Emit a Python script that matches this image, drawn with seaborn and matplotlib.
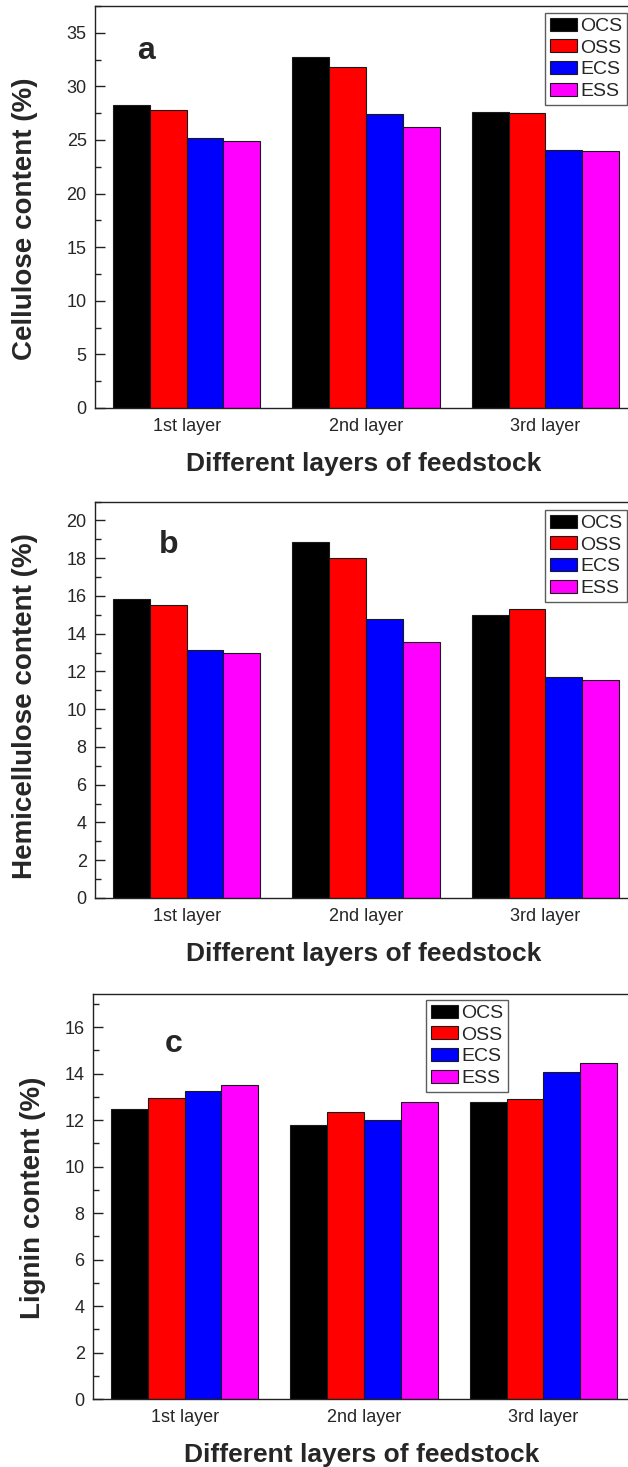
import numpy as np
import pandas as pd
import matplotlib
matplotlib.use("Agg")
import matplotlib.pyplot as plt
from matplotlib.ticker import MultipleLocator
import seaborn as sns

# ---------------- data ----------------
layers = ["1st layer", "2nd layer", "3rd layer"]
series = ["OCS", "OSS", "ECS", "ESS"]
colors = ["#000000", "#FF0000", "#0000FF", "#FF00FF"]

cellulose_OCS = [28.25, 32.75, 27.6]
cellulose_OSS = [27.8, 31.8, 27.55]
cellulose_ECS = [25.15, 27.4, 24.1]
cellulose_ESS = [24.95, 26.2, 24.0]

hemi_OCS = [15.85, 18.85, 15.0]
hemi_OSS = [15.5, 18.0, 15.3]
hemi_ECS = [13.15, 14.8, 11.7]
hemi_ESS = [12.97, 13.55, 11.55]

lignin_OCS = [12.5, 11.77, 12.8]
lignin_OSS = [12.95, 12.35, 12.9]
lignin_ECS = [13.25, 12.0, 14.08]
lignin_ESS = [13.53, 12.8, 14.47]

ylabels = ["Cellulose content (%)", "Hemicellulose content (%)", "Lignin content (%)"]
xlabel = "Different layers of feedstock"
panel_letters = ["a", "b", "c"]


def long_df(a, b, c, d):
    rows = []
    for name, vals in zip(series, [a, b, c, d]):
        for lay, v in zip(layers, vals):
            rows.append({"layer": lay, "series": name, "value": v})
    return pd.DataFrame(rows)


dfs = [
    long_df(cellulose_OCS, cellulose_OSS, cellulose_ECS, cellulose_ESS),
    long_df(hemi_OCS, hemi_OSS, hemi_ECS, hemi_ESS),
    long_df(lignin_OCS, lignin_OSS, lignin_ECS, lignin_ESS),
]

# ---------------- style ----------------
sns.set_style("ticks")
plt.rcParams["font.family"] = ["Liberation Sans", "DejaVu Sans"]

W, H = 628, 1467
fig = plt.figure(figsize=(W / 100, H / 100), dpi=100)

# axes boxes in pixels: (left, top, right, bottom)
boxes = [(95, 6, 637, 408), (95, 501.5, 637, 898), (93, 993.5, 635, 1399)]
ylims = [(0, 37.5), (0, 21), (0, 17.45)]
majors = [5, 2, 2]
minors = [2.5, 1, 1]
legend_pos = [("upper right", 627, 13), ("upper right", 627, 510), ("upper left", 426, 1000)]
letter_pos = [(146, 59), (169, 553), (174, 1052)]
ylab_x = [25, 25, 33]
ylab_y = [0.47, 0.485, 0.495]

for i, df in enumerate(dfs):
    l, t, r, b = boxes[i]
    ax = fig.add_axes([l / W, 1 - b / H, (r - l) / W, (b - t) / H])
    sns.barplot(data=df, x="layer", y="value", hue="series", hue_order=series,
                order=layers, palette=colors, width=0.82, gap=0,
                edgecolor="#1a1a1a", linewidth=0.8, saturation=1,
                errorbar=None, ax=ax)
    ax.set_xlim(-0.511, 2.511)
    ax.set_ylim(*ylims[i])
    ax.yaxis.set_major_locator(MultipleLocator(majors[i]))
    ax.yaxis.set_minor_locator(MultipleLocator(minors[i]))
    ax.tick_params(axis="y", which="major", direction="in", length=7, width=1,
                   labelsize=13, pad=6, color="#222222")
    ax.tick_params(axis="y", which="minor", direction="in", length=4, width=1,
                   color="#222222")
    ax.tick_params(axis="x", which="both", length=0, labelsize=13, pad=7)
    for s in ax.spines.values():
        s.set_linewidth(1.0)
        s.set_color("#222222")
        s.set_visible(True)

    ax.set_xlabel(xlabel, fontsize=19, fontweight="bold", va="center")
    ax.xaxis.set_label_coords(0.496, -56 / (b - t))
    ax.set_ylabel(ylabels[i], fontsize=20, fontweight="bold", va="center")
    ax.yaxis.set_label_coords((ylab_x[i] - l) / (r - l), ylab_y[i])

    # legend
    loc, lx, ly = legend_pos[i]
    handles, labels = ax.get_legend_handles_labels()
    leg = ax.legend(handles, labels, loc=loc,
                    bbox_to_anchor=(lx / W, 1 - ly / H),
                    bbox_transform=fig.transFigure, borderaxespad=0,
                    fontsize=14, frameon=True, fancybox=False,
                    handlelength=1.4, handleheight=0.65, handletextpad=0.15,
                    labelspacing=0.22, borderpad=0.25)
    leg.get_frame().set_edgecolor("#333333")
    leg.get_frame().set_linewidth(1.0)

    px, py = letter_pos[i]
    fig.text(px / W, 1 - py / H, panel_letters[i], fontsize=23,
             fontweight="bold", ha="center", va="baseline")

fig.savefig("out.png", dpi=100)
